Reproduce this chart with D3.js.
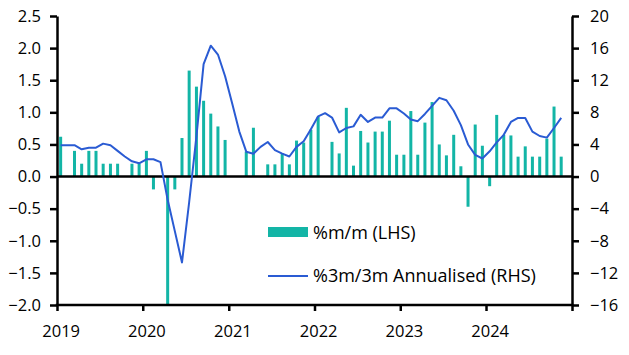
<!DOCTYPE html>
<html>
<head>
<meta charset="utf-8">
<script src="https://cdn.jsdelivr.net/npm/d3@7"></script>
<style>
  html, body { margin: 0; padding: 0; background: #fff; }
  svg { display: block; }
  text { font-family: "Open Sans", "Liberation Sans", Arial, sans-serif; fill: #000; }
</style>
</head>
<body>
<svg id="chart" width="629" height="355"></svg>
<script>
// ---- Data (monthly, Jan 2019 – Nov 2024) ----
const startMonth = "2019-01";
const monthCount = 71;

const mmValues = [
  // 2019
  0.62, 0, 0.40, 0.20, 0.40, 0.40, 0.20, 0.20, 0.20, 0, 0.20, 0.20,
  // 2020
  0.40, -0.20, 0, -2.00, -0.20, 0.60, 1.65, 1.40, 1.18, 0.98, 0.78, 0.57,
  // 2021
  0, 0, 0.39, 0.76, 0, 0.19, 0.19, 0.36, 0.19, 0.56, 0.53, 0.73,
  // 2022
  0.93, 0, 0.54, 0.36, 1.07, 0.17, 0.71, 0.53, 0.70, 0.70, 0.87, 0.34,
  // 2023
  0.34, 1.02, 0.34, 0.84, 1.16, 0.50, 0.33, 0.65, 0.16, -0.47, 0.81, 0.48,
  // 2024
  -0.15, 0.96, 0.65, 0.64, 0.31, 0.47, 0.31, 0.31, 0.59, 1.09, 0.31
];

const annValues = [
  // 2019
  3.9, 3.9, 3.9, 3.4, 3.6, 3.6, 4.1, 3.9, 3.2, 2.5, 1.9, 1.65,
  // 2020
  2.15, 2.15, 1.8, -2.9, -6.8, -10.7, -3.2, 5.0, 14.0, 16.3, 15.2, 12.5,
  // 2021
  9.0, 5.6, 3.1, 2.85, 3.7, 4.3, 3.3, 2.85, 2.5, 3.7, 4.4, 5.9,
  // 2022
  7.5, 7.9, 7.35, 5.5, 6.05, 6.25, 7.7, 6.8, 7.35, 7.35, 8.5, 8.5,
  // 2023
  7.85, 7.1, 6.9, 7.8, 8.8, 9.8, 9.5, 8.2, 6.4, 4.0, 2.7, 2.25,
  // 2024
  3.15, 4.25, 5.2, 6.8, 7.3, 7.3, 5.6, 5.05, 4.85, 6.05, 7.3
];

const leftTicks = [-2.0, -1.5, -1.0, -0.5, 0.0, 0.5, 1.0, 1.5, 2.0, 2.5];
const rightTicks = [-16, -12, -8, -4, 0, 4, 8, 12, 16, 20];
const yearTicks = [2019, 2020, 2021, 2022, 2023, 2024, 2025];
const yearLabels = ["2019", "2020", "2021", "2022", "2023", "2024", ""];

const seriesNames = ["%m/m (LHS)", "%3m/3m Annualised (RHS)"];

// ---- Styles ----
const barColor = "#13b5a6";
const lineColor = "#2a5bd3";

// ---- Layout ----
const plot = { left: 57, right: 572, top: 16, bottom: 305 };

const svg = d3.select("#chart");
const parse = d3.timeParse("%Y-%m");
const t0 = parse(startMonth);
const months = d3.range(monthCount).map(i => d3.timeMonth.offset(t0, i));

const x = d3.scaleTime()
  .domain([new Date(2019, 0, 1), new Date(2025, 0, 1)])
  .range([plot.left, plot.right]);
const yL = d3.scaleLinear().domain([-2.0, 2.5]).range([plot.bottom, plot.top]);
const yR = d3.scaleLinear().domain([-16, 20]).range([plot.bottom, plot.top]);

const mid = d => (x(d) + x(d3.timeMonth.offset(d, 1))) / 2;
const barW = 3;

// Bars
svg.append("g").selectAll("rect")
  .data(months.map((d, i) => ({ d, v: mmValues[i] })).filter(o => o.v !== 0))
  .join("rect")
  .attr("x", o => mid(o.d) - barW / 2)
  .attr("width", barW)
  .attr("y", o => yL(Math.max(0, o.v)))
  .attr("height", o => Math.abs(yL(o.v) - yL(0)))
  .attr("fill", barColor);

// Zero line
svg.append("line")
  .attr("x1", plot.left).attr("x2", plot.right)
  .attr("y1", yL(0)).attr("y2", yL(0))
  .attr("stroke", "#000").attr("stroke-width", 2.5);

// Line
const line = d3.line()
  .x((v, i) => mid(months[i]))
  .y(v => yR(v));
svg.append("path")
  .datum(annValues)
  .attr("d", line)
  .attr("fill", "none")
  .attr("stroke", lineColor)
  .attr("stroke-width", 2)
  .attr("stroke-linejoin", "round");

// Axes
const axisStroke = 2.5;
function styleAxis(g) {
  g.selectAll("path.domain").attr("stroke", "#000").attr("stroke-width", axisStroke);
  g.selectAll(".tick line").attr("stroke", "#000").attr("stroke-width", axisStroke);
  g.selectAll(".tick text").style("font-size", "16.5px").attr("fill", "#000");
}

const gL = svg.append("g")
  .attr("transform", `translate(${plot.left},0)`)
  .call(d3.axisLeft(yL).tickValues(leftTicks).tickFormat(d3.format(".1f"))
    .tickSize(7).tickSizeOuter(0).tickPadding(9));
styleAxis(gL);

const gR = svg.append("g")
  .attr("transform", `translate(${plot.right},0)`)
  .call(d3.axisRight(yR).tickValues(rightTicks).tickFormat(d3.format("d"))
    .tickSize(7).tickSizeOuter(0).tickPadding(11));
styleAxis(gR);

const halfMonth = (x(new Date(2019, 1, 1)) - x(new Date(2019, 0, 1))) / 2;
const gX = svg.append("g")
  .attr("transform", `translate(0,${plot.bottom})`)
  .call(d3.axisBottom(x)
    .tickValues(yearTicks.map(y => new Date(y, 0, 1)))
    .tickFormat((d, i) => yearLabels[i])
    .tickSize(6).tickSizeOuter(0).tickPadding(14));
styleAxis(gX);
gX.selectAll(".tick text").attr("x", halfMonth);
gX.select("path.domain").attr("d", `M${plot.left - 1.25},0H${plot.right + 1.25}`);

// Legend
const lg = svg.append("g");
lg.append("rect")
  .attr("x", 268).attr("y", 227).attr("width", 40).attr("height", 10)
  .attr("fill", barColor);
lg.append("text")
  .attr("x", 313).attr("y", 239)
  .style("font-size", "18px")
  .text(seriesNames[0]);
lg.append("line")
  .attr("x1", 268).attr("x2", 308).attr("y1", 276).attr("y2", 276)
  .attr("stroke", lineColor).attr("stroke-width", 2);
lg.append("text")
  .attr("x", 313).attr("y", 282)
  .style("font-size", "18px")
  .text(seriesNames[1]);
</script>
</body>
</html>
